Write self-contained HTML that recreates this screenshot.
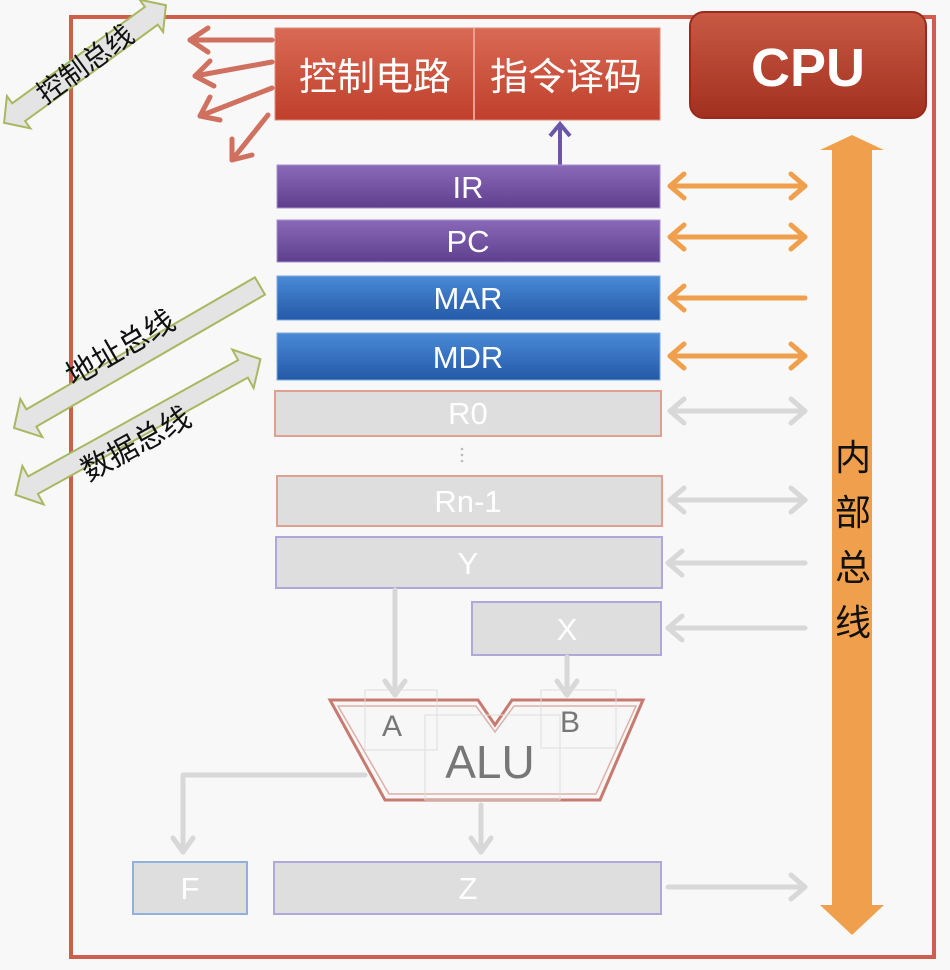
<!DOCTYPE html>
<html><head><meta charset="utf-8"><style>
html,body{margin:0;padding:0;background:#f7f7f7;}
svg{display:block;}
text{font-family:"Liberation Sans","Noto Sans CJK SC",sans-serif;}
</style></head><body>
<svg width="950" height="970" viewBox="0 0 950 970" xmlns="http://www.w3.org/2000/svg">
<defs>
<linearGradient id="red" x1="0" y1="0" x2="0" y2="1"><stop offset="0" stop-color="#d86a55"/><stop offset="1" stop-color="#c0402c"/></linearGradient>
<linearGradient id="cpu" x1="0" y1="0" x2="0" y2="1"><stop offset="0" stop-color="#c85a44"/><stop offset="1" stop-color="#a2301f"/></linearGradient>
<linearGradient id="pur" x1="0" y1="0" x2="0" y2="1"><stop offset="0" stop-color="#8a6ab8"/><stop offset="1" stop-color="#5e3f8e"/></linearGradient>
<linearGradient id="blu" x1="0" y1="0" x2="0" y2="1"><stop offset="0" stop-color="#4a8ad6"/><stop offset="1" stop-color="#2459a8"/></linearGradient>
</defs>
<rect x="0" y="0" width="950" height="970" fill="#f8f8f8"/>
<rect x="71" y="17" width="863" height="940" fill="none" stroke="#cf5e4e" stroke-width="4"/>
<rect x="690" y="12" width="236" height="106" rx="14" fill="url(#cpu)" stroke="#9a2a1b" stroke-width="2"/>
<text x="808" y="86" font-size="54" font-weight="bold" fill="#fff" text-anchor="middle">CPU</text>
<rect x="275" y="28" width="385" height="92" fill="url(#red)" stroke="#e08a7a"/>
<line x1="474" y1="28" x2="474" y2="120" stroke="#e8a090" stroke-width="2"/>
<text x="375" y="90" font-size="38" fill="#fff" text-anchor="middle">控制电路</text>
<text x="566" y="90" font-size="38" fill="#fff" text-anchor="middle">指令译码</text>
<g stroke="#d0705e" stroke-width="5" fill="none" stroke-linecap="round" stroke-linejoin="round">
<line x1="272" y1="40" x2="190" y2="40"/><polyline points="208,28 190,40 208,52"/>
<line x1="272" y1="62" x2="195" y2="76"/><polyline points="210,61 195,76 214,86"/>
<line x1="272" y1="88" x2="200" y2="116"/><polyline points="210,97 200,116 220,120"/>
<line x1="268" y1="115" x2="232" y2="160"/><polyline points="232,139 232,160 252,155"/>
</g>
<g stroke="#6b55a8" stroke-width="4" fill="none"><line x1="560" y1="165" x2="560" y2="124"/><polyline points="550,136 560,124 570,136"/></g>
<g font-size="31" fill="#fff" text-anchor="middle">
<rect x="277" y="165" width="383" height="43" fill="url(#pur)" stroke="#a890d0"/><text x="468" y="198">IR</text>
<rect x="277" y="220" width="383" height="42" fill="url(#pur)" stroke="#a890d0"/><text x="468" y="252">PC</text>
<rect x="277" y="276" width="383" height="44" fill="url(#blu)" stroke="#7aaae0"/><text x="468" y="309">MAR</text>
<rect x="277" y="333" width="383" height="47" fill="url(#blu)" stroke="#7aaae0"/><text x="468" y="368">MDR</text>
<rect x="275" y="391" width="386" height="45" fill="#dedede" stroke="#e0a090" stroke-width="2"/><text x="468" y="424">R0</text>
<rect x="277" y="476" width="385" height="50" fill="#dedede" stroke="#e0a090" stroke-width="2"/><text x="468" y="512">Rn-1</text>
<rect x="276" y="537" width="386" height="51" fill="#dedede" stroke="#b0a8d8" stroke-width="2"/><text x="468" y="574">Y</text>
<rect x="472" y="602" width="189" height="53" fill="#dedede" stroke="#b0a8d8" stroke-width="2"/><text x="567" y="640">X</text>
<rect x="274" y="862" width="387" height="52" fill="#dedede" stroke="#b0a8d8" stroke-width="2"/><text x="468" y="899">Z</text>
<rect x="133" y="862" width="114" height="52" fill="#dedede" stroke="#90b0e0" stroke-width="2"/><text x="190" y="899">F</text>
</g>
<g fill="#bbb"><circle cx="462" cy="449" r="1.3"/><circle cx="462" cy="455" r="1.3"/><circle cx="462" cy="461" r="1.3"/></g>
<polygon points="832,150 820,150 852,135 884,150 872,150 872,905 884,905 852,935 820,905 832,905" fill="#f0a04c"/>
<g font-size="36" fill="#111" text-anchor="middle">
<text x="853" y="470">内</text><text x="853" y="525">部</text><text x="853" y="580">总</text><text x="853" y="635">线</text>
</g>
<g stroke="#f0a04c" stroke-width="5" fill="none" stroke-linejoin="round" stroke-linecap="round">
<line x1="670" y1="186" x2="805" y2="186"/><polyline points="684,174 670,186 684,198"/><polyline points="791,174 805,186 791,198"/>
<line x1="670" y1="237" x2="805" y2="237"/><polyline points="684,225 670,237 684,249"/><polyline points="791,225 805,237 791,249"/>
<line x1="670" y1="298" x2="805" y2="298"/><polyline points="684,286 670,298 684,310"/>
<line x1="670" y1="356" x2="805" y2="356"/><polyline points="684,344 670,356 684,368"/><polyline points="791,344 805,356 791,368"/>
</g>
<g stroke="#d8d8d8" stroke-width="5" fill="none" stroke-linejoin="round" stroke-linecap="round">
<line x1="670" y1="411" x2="805" y2="411"/><polyline points="684,399 670,411 684,423"/><polyline points="791,399 805,411 791,423"/>
<line x1="670" y1="500" x2="805" y2="500"/><polyline points="684,488 670,500 684,512"/><polyline points="791,488 805,500 791,512"/>
<line x1="668" y1="563" x2="805" y2="563"/><polyline points="682,551 668,563 682,575"/>
<line x1="668" y1="628" x2="805" y2="628"/><polyline points="682,616 668,628 682,640"/>
<line x1="668" y1="887" x2="805" y2="887"/><polyline points="791,875 805,887 791,899"/>
<line x1="395" y1="590" x2="395" y2="695"/><polyline points="385,681 395,695 405,681"/>
<line x1="567" y1="657" x2="567" y2="695"/><polyline points="557,681 567,695 577,681"/>
<line x1="481" y1="805" x2="481" y2="852"/><polyline points="471,838 481,852 491,838"/>
<polyline points="365,775 183,775 183,852"/><polyline points="173,838 183,852 193,838"/>
</g>
<polygon points="330,700 478,700 495,725 512,700 643,700 600,800 385,800" fill="#f7f7f7" stroke="#c87a70" stroke-width="3"/>
<polygon points="338,706 476,706 495,732 514,706 636,706 596,794 389,794" fill="none" stroke="#ddb0a8" stroke-width="1.5"/>
<g fill="none" stroke="#ddd" stroke-width="1"><rect x="365" y="690" width="72" height="60"/><rect x="541" y="690" width="75" height="58"/><rect x="425" y="715" width="135" height="85"/></g>
<text x="392" y="736" font-size="30" fill="#777" text-anchor="middle">A</text>
<text x="570" y="732" font-size="30" fill="#777" text-anchor="middle">B</text>
<text x="490" y="778" font-size="46" fill="#777" text-anchor="middle">ALU</text>
<g transform="translate(85,64) rotate(-36)">
<polygon points="-100,0 -82,-20 -82,-11 82,-11 82,-20 100,0 82,20 82,11 -82,11 -82,20" fill="#e4e4e4" stroke="#a8b860" stroke-width="2"/>
<text x="0" y="10" font-size="28" fill="#111" text-anchor="middle">控制总线</text>
</g>
<g transform="translate(137,357) rotate(-30)">
<polygon points="-142,0 -122,-22 -122,-10 142,-10 142,10 -122,10 -122,22" fill="#e4e4e4" stroke="#a8b860" stroke-width="2"/>
<text x="-10" y="-6" font-size="30" fill="#111" text-anchor="middle">地址总线</text>
</g>
<g transform="translate(138,427) rotate(-29)">
<polygon points="-140,0 -120,-22 -120,-10 120,-10 120,-22 140,0 120,22 120,10 -120,10 -120,22" fill="#e4e4e4" stroke="#a8b860" stroke-width="2"/>
<text x="-10" y="24" font-size="30" fill="#111" text-anchor="middle">数据总线</text>
</g>
</svg>
</body></html>
